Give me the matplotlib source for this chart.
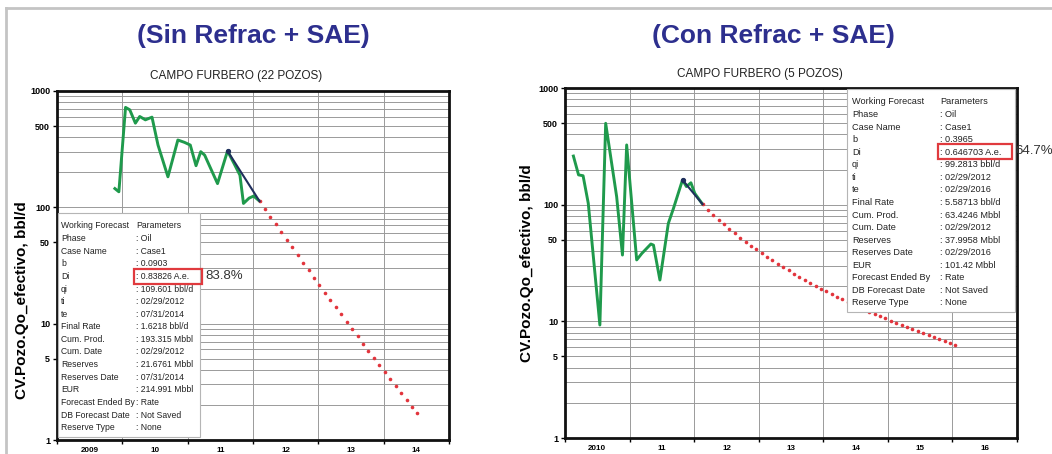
import matplotlib
matplotlib.use("Agg")
import matplotlib.pyplot as plt
from matplotlib.patches import Rectangle
from matplotlib.lines import Line2D
from matplotlib.ticker import LogLocator, NullFormatter
import numpy as np

plt.rcParams['font.family'] = ['Liberation Sans', 'DejaVu Sans']

W, H = 1052, 454

# ---- left panel: Sin Refrac + SAE (22 pozos) ----
left_hist_year = [2009.886, 2009.947, 2010.049, 2010.114, 2010.20, 2010.266, 2010.353,
                  2010.454, 2010.546, 2010.698, 2010.85, 2010.95, 2011.04, 2011.128,
                  2011.20, 2011.26, 2011.457, 2011.61, 2011.71, 2011.80, 2011.854,
                  2011.94, 2012.01, 2012.10]
left_hist_rate = [145, 136, 723, 689, 529, 604, 565, 596, 343, 183, 379, 362, 343, 228,
                  301, 281, 160, 305, 238, 189, 108, 120, 125, 113]
left_fit_year = [2011.61, 2012.10]
left_fit_rate = [305, 113]
left_fc_start = 2012.10
left_fc_rate = [113, 97.1, 83.4, 71.6, 61.5, 52.9, 45.4, 39.0, 33.5, 28.8, 24.8, 21.4,
                18.5, 16.0, 13.9, 12.0, 10.4, 9.0, 7.8, 6.75, 5.85, 5.07, 4.40, 3.83,
                3.34, 2.92, 2.55, 2.22, 1.94, 1.70]
left_years = [2009, 2010, 2011, 2012, 2013, 2014, 2015]
left_year_labels = ["2009", "10", "11", "12", "13", "14"]
left_params = ["Parameters", ": Oil", ": Case1", ": 0.0903", ": 0.83826 A.e.",
               ": 109.601 bbl/d", ": 02/29/2012", ": 07/31/2014", ": 1.6218 bbl/d",
               ": 193.315 Mbbl", ": 02/29/2012", ": 21.6761 Mbbl", ": 07/31/2014",
               ": 214.991 Mbbl", ": Rate", ": Not Saved", ": None"]

# ---- right panel: Con Refrac + SAE (5 pozos) ----
right_hist_year = [2010.13, 2010.21, 2010.28, 2010.36, 2010.54, 2010.63, 2010.80,
                   2010.89, 2010.955, 2011.11, 2011.19, 2011.33, 2011.37, 2011.47,
                   2011.60, 2011.68, 2011.82, 2011.88, 2011.95, 2012.01, 2012.13]
right_hist_rate = [261, 180, 177, 103, 9.3, 498, 117, 37, 325, 33.6, 38.2, 46, 45, 22.6,
                   69, 93, 163, 143, 154, 125, 101]
right_fit_year = [2011.82, 2012.13]
right_fit_rate = [163, 101]
right_fc_start = 2012.13
right_fc_rate = [101, 90.9, 82.2, 74.6, 67.9, 62.1, 56.9, 52.3, 48.2, 44.6, 41.3, 38.3,
                 35.7, 33.3, 31.1, 29.1, 27.3, 25.6, 24.1, 22.7, 21.4, 20.2, 19.1, 18.1,
                 17.1, 16.2, 15.4, 14.7, 14.0, 13.3, 12.7, 12.1, 11.6, 11.1, 10.6, 10.1,
                 9.70, 9.30, 8.92, 8.57, 8.23, 7.91, 7.61, 7.33, 7.06, 6.80, 6.55, 6.32]
right_years = [2010, 2011, 2012, 2013, 2014, 2015, 2016, 2017]
right_year_labels = ["2010", "11", "12", "13", "14", "15", "16"]
right_params = ["Parameters", ": Oil", ": Case1", ": 0.3965", ": 0.646703 A.e.",
                ": 99.2813 bbl/d", ": 02/29/2012", ": 02/29/2016", ": 5.58713 bbl/d",
                ": 63.4246 Mbbl", ": 02/29/2012", ": 37.9958 Mbbl", ": 02/29/2016",
                ": 101.42 Mbbl", ": Rate", ": Not Saved", ": None"]

param_names = ["Working Forecast", "Phase", "Case Name", "b", "Di", "qi", "ti", "te",
               "Final Rate", "Cum. Prod.", "Cum. Date", "Reserves", "Reserves Date",
               "EUR", "Forecast Ended By", "DB Forecast Date", "Reserve Type"]

y_ticks = [1, 5, 10, 50, 100, 500, 1000]

GREEN = "#1f9a4c"
RED = "#e2343c"
FIT = "#1f2f5c"
TITLE = "#2d2f8e"


def px(x, y):
    return x / W, 1 - y / H


def draw_panel(rect, hist_x, hist_y, fit_x, fit_y, fc_start, fc_y, years, year_labels,
               label_xy):
    l, t, r, b = rect
    ax = fig.add_axes([l / W, 1 - b / H, (r - l) / W, (b - t) / H])
    ax.plot(hist_x, hist_y, color=GREEN, lw=2.1, zorder=3)
    ax.plot(fit_x, fit_y, color=FIT, lw=1.5, zorder=4)
    ax.plot(fit_x[0], fit_y[0], "o", color=FIT, ms=2.8, zorder=4)
    fc_x = fc_start + np.arange(len(fc_y)) / 12
    ax.plot(fc_x, fc_y, "o", color=RED, ms=2.6, mec="none", zorder=3)
    ax.set_yscale("log")
    ax.set_ylim(1, 1000)
    ax.set_xlim(years[0], years[-1])
    ax.set_yticks(y_ticks, [str(v) for v in y_ticks])
    ax.yaxis.set_minor_locator(LogLocator(base=10, subs=range(2, 10)))
    ax.yaxis.set_minor_formatter(NullFormatter())
    ax.set_xticks(years, [""] * len(years))
    mids = [y + 0.5 for y in years[:-1]]
    ax.set_xticks(mids, year_labels, minor=True)
    ax.tick_params(axis="both", which="major", direction="out", length=3, width=1,
                   labelsize=6.5, pad=2)
    ax.tick_params(axis="y", which="minor", length=0)
    ax.tick_params(axis="x", which="minor", length=0, labelsize=5.8, pad=5)
    for lab in ax.get_yticklabels() + ax.get_xticklabels(minor=True):
        lab.set_fontweight("bold")
    ax.xaxis.grid(True, which="major", color="#9a9a9a", lw=0.7)
    ax.yaxis.grid(True, which="both", color="#9a9a9a", lw=0.7)
    for s in ax.spines.values():
        s.set_linewidth(2)
        s.set_color("#111111")
    ax.set_ylabel("CV.Pozo.Qo_efectivo, bbl/d", fontsize=11, fontweight="bold")
    ax.yaxis.set_label_coords(*label_xy)
    return ax


def draw_box(box, row0, step, name_x, val_x, values, fs):
    bl, bt, br, bb = box
    x0, y0 = px(bl, bb)
    fig.add_artist(Rectangle((x0, y0), (br - bl) / W, (bb - bt) / H,
                             transform=fig.transFigure, facecolor="white",
                             edgecolor="#b5b5b5", lw=0.8, zorder=5))
    for i, (n, v) in enumerate(zip(param_names, values)):
        yy = row0 + i * step
        fig.text(*px(name_x, yy), n, fontsize=fs, va="center", ha="left",
                 color="#222222", zorder=6)
        fig.text(*px(val_x, yy), v, fontsize=fs, va="center", ha="left",
                 color="#222222", zorder=6)


fig = plt.figure(figsize=(W / 100, H / 100), dpi=100)

# outer frame
fig.add_artist(Line2D([6 / W, 1], [1 - 8 / H, 1 - 8 / H], transform=fig.transFigure,
                      color="#c4c4c4", lw=2))
fig.add_artist(Line2D([6 / W, 6 / W], [0, 1 - 8 / H], transform=fig.transFigure,
                      color="#c4c4c4", lw=2))

axl = draw_panel((57, 91, 449, 440), left_hist_year, left_hist_rate, left_fit_year,
                 left_fit_rate, left_fc_start, left_fc_rate, left_years, left_year_labels,
                 (-0.072, 0.40))
axr = draw_panel((565, 88, 1017, 438), right_hist_year, right_hist_rate, right_fit_year,
                 right_fit_rate, right_fc_start, right_fc_rate, right_years,
                 right_year_labels, (-0.068, 0.50))

fig.text(*px(253, 36), "(Sin Refrac + SAE)", fontsize=19, fontweight="bold",
         color=TITLE, ha="center", va="center")
fig.text(*px(773, 36), "(Con Refrac + SAE)", fontsize=19, fontweight="bold",
         color=TITLE, ha="center", va="center")
fig.text(*px(236, 76), "CAMPO FURBERO (22 POZOS)", fontsize=8.5, ha="center",
         va="center", color="#222222")
fig.text(*px(760, 74), "CAMPO FURBERO (5 POZOS)", fontsize=8.5, ha="center",
         va="center", color="#222222")

draw_box((58, 213, 200, 437), 226, 12.6, 61, 136, left_params, 6.2)
draw_box((847, 89, 1015, 312), 102, 12.56, 852, 940, right_params, 6.6)

# highlighted Di values
for (bx0, by0, bx1, by1), pct, tx, ty in [((134, 269, 202, 284), "83.8%", 205, 276),
                                          ((938, 144, 1012, 159), "64.7%", 1015, 151)]:
    x0, y0 = px(bx0, by1)
    fig.add_artist(Rectangle((x0, y0), (bx1 - bx0) / W, (by1 - by0) / H,
                             transform=fig.transFigure, fill=False,
                             edgecolor="#e03a3e", lw=1.6, zorder=7))
    fig.text(*px(tx, ty), pct, fontsize=9.5, va="center", ha="left",
             color="#333333", zorder=7)

fig.savefig("out.png", dpi=100)
